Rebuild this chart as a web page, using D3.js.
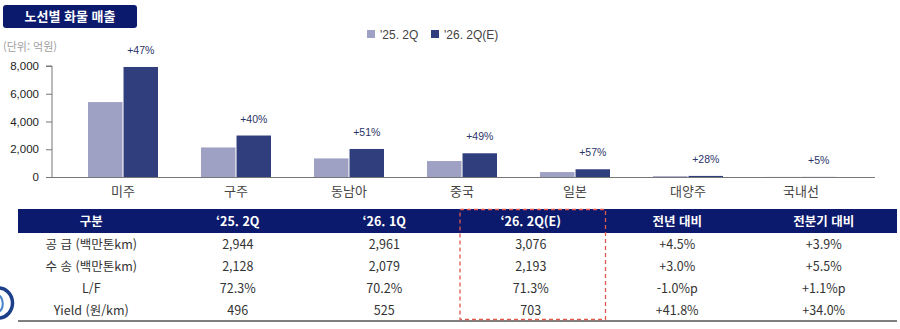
<!DOCTYPE html>
<html lang="ko">
<head>
<meta charset="UTF-8">
<title>노선별 화물 매출</title>
<script src="https://d3js.org/d3.v7.min.js"></script>
<style>
    body { margin: 0; padding: 0; background: #fff; }
    svg { display: block; }
    .kr { font-family: "Noto Sans CJK KR", "Noto Sans", sans-serif; }
    .num { font-family: "Liberation Sans", Arial, sans-serif; }
</style>
</head>
<body>
<div id="chart"></div>
<script>
// chart data (억원)
const routes = ['미주', '구주', '동남아', '중국', '일본', '대양주', '국내선'];
const sales25 = [5400, 2130, 1340, 1150, 355, 60, 6];
const sales26 = [7930, 2990, 2020, 1710, 558, 77, 6.3];
const growth = ['+47%', '+40%', '+51%', '+49%', '+57%', '+28%', '+5%'];
const series = ["'25. 2Q", "'26. 2Q(E)"];
const yTicks = [0, 2000, 4000, 6000, 8000];

// table data
const tableHead = ['구분', '‘25. 2Q', '‘26. 1Q', '‘26. 2Q(E)', '전년 대비', '전분기 대비'];
const rowLabels = ['공 급 (백만톤km)', '수 송 (백만톤km)', 'L/F', 'Yield (원/km)'];
const col25 = ['2,944', '2,128', '72.3%', '496'];
const col26q1 = ['2,961', '2,079', '70.2%', '525'];
const col26q2 = ['3,076', '2,193', '71.3%', '703'];
const yoy = ['+4.5%', '+3.0%', '-1.0%p', '+41.8%'];
const qoq = ['+3.9%', '+5.5%', '+1.1%p', '+34.0%'];

const W = 900, H = 329;
const navy = '#0b1a6c';
const light = '#9ea1c4';
const dark = '#303e7d';

const svg = d3.select('#chart').append('svg')
    .attr('width', W).attr('height', H);

// title badge
svg.append('rect')
    .attr('x', 3).attr('y', 5).attr('width', 134).attr('height', 23)
    .attr('rx', 3).attr('fill', navy);
svg.append('text').attr('class', 'kr')
    .attr('x', 70).attr('y', 21)
    .attr('text-anchor', 'middle')
    .attr('fill', '#fff').attr('font-size', 13).attr('font-weight', 700)
    .text('노선별 화물 매출');

svg.append('text').attr('class', 'kr')
    .attr('x', 3).attr('y', 51)
    .attr('fill', '#a0a0a0').attr('font-size', 11)
    .text('(단위: 억원)');

// legend
const legend = svg.append('g');
const legendX = [367, 431];
series.forEach((s, i) => {
    legend.append('rect')
        .attr('x', legendX[i]).attr('y', 30).attr('width', 8).attr('height', 8)
        .attr('fill', i === 0 ? light : dark);
    legend.append('text').attr('class', 'num')
        .attr('x', legendX[i] + 13).attr('y', 38.5)
        .attr('fill', '#444').attr('font-size', 12)
        .text(s);
});

// scales
const x = d3.scaleBand().domain(routes).range([66.5, 857.5]);
const inner = d3.scaleBand().domain([0, 1]).range([21.5, 91.5]).paddingInner(0.03);
const y = d3.scaleLinear().domain([0, 8000]).range([177, 66]);

// y axis
const yAxis = svg.append('g')
    .attr('transform', 'translate(52,0)')
    .call(d3.axisLeft(y).tickValues(yTicks).tickSize(6).tickFormat(d3.format(',')));
yAxis.select('.domain').attr('stroke', '#777').attr('d', 'M-6,66H0V177');
yAxis.selectAll('.tick line').attr('stroke', '#777');
yAxis.selectAll('.tick text')
    .attr('class', 'num').attr('x', -13)
    .attr('font-size', 11.5).attr('fill', '#222');

// bars
const groups = svg.selectAll('.grp')
    .data(routes.map((r, i) => ({ r, v: [sales25[i], sales26[i]], g: growth[i] })))
    .join('g')
    .attr('class', 'grp')
    .attr('transform', d => `translate(${x(d.r)},0)`);

groups.selectAll('rect')
    .data(d => d.v)
    .join('rect')
    .attr('x', (v, i) => inner(i))
    .attr('width', inner.bandwidth())
    .attr('y', v => y(v))
    .attr('height', v => y(0) - y(v))
    .attr('fill', (v, i) => i === 0 ? light : dark);

groups.append('text')
    .attr('class', 'num')
    .attr('x', inner(1) + inner.bandwidth() / 2)
    .attr('y', d => Math.min(y(d.v[1]) - 13, 164))
    .attr('text-anchor', 'middle')
    .attr('font-size', 10.5).attr('fill', '#2b3468')
    .text(d => d.g);

// baseline + category labels
svg.append('line')
    .attr('x1', 52).attr('x2', 875).attr('y1', 177.5).attr('y2', 177.5)
    .attr('stroke', '#777').attr('stroke-width', 1.2);
svg.selectAll('.cat')
    .data(routes)
    .join('text')
    .attr('class', 'kr cat')
    .attr('x', d => x(d) + x.bandwidth() / 2)
    .attr('y', 196)
    .attr('text-anchor', 'middle')
    .attr('font-size', 13).attr('fill', '#444')
    .text(d => d);

// table
const cols = d3.scaleBand().domain(d3.range(6)).range([18, 897]);
const rows = d3.scaleBand().domain(d3.range(4)).range([233, 321]);

svg.append('rect')
    .attr('x', 18).attr('y', 209).attr('width', 879).attr('height', 24)
    .attr('fill', navy);
svg.selectAll('.th')
    .data(tableHead)
    .join('text')
    .attr('class', 'kr th')
    .attr('x', (d, i) => cols(i) + cols.bandwidth() / 2)
    .attr('y', 225.5)
    .attr('text-anchor', 'middle')
    .attr('fill', '#fff').attr('font-size', 12.5).attr('font-weight', 700)
    .text(d => d);

const columns = [rowLabels, col25, col26q1, col26q2, yoy, qoq];
columns.forEach((col, ci) => {
    svg.selectAll(`.td${ci}`)
        .data(col)
        .join('text')
        .attr('class', `kr td${ci}`)
        .attr('x', cols(ci) + cols.bandwidth() / 2)
        .attr('y', (d, ri) => rows(ri) + rows.bandwidth() / 2 + 4.5)
        .attr('text-anchor', 'middle')
        .attr('fill', '#333').attr('font-size', 12.5)
        .text(d => d);
});

svg.append('line')
    .attr('x1', 18).attr('x2', 897).attr('y1', 321).attr('y2', 321)
    .attr('stroke', '#555').attr('stroke-width', 1.5);

// highlight on current estimate column
svg.append('rect')
    .attr('x', cols(3) + 2.5).attr('y', 209.5)
    .attr('width', cols.bandwidth() - 1).attr('height', 110)
    .attr('fill', 'none').attr('stroke', '#e0584e')
    .attr('stroke-width', 1.3).attr('stroke-dasharray', '4,3');

// partial logo at lower-left edge
svg.append('path')
    .attr('d', 'M-2,288 A14,15 0 0 1 -1,318')
    .attr('fill', 'none').attr('stroke', '#1c3f8c').attr('stroke-width', 3.5);
svg.append('path')
    .attr('d', 'M-4,294 A9,10 0 0 1 -3,313')
    .attr('fill', 'none').attr('stroke', '#4a84c8').attr('stroke-width', 2);
</script>
</body>
</html>
